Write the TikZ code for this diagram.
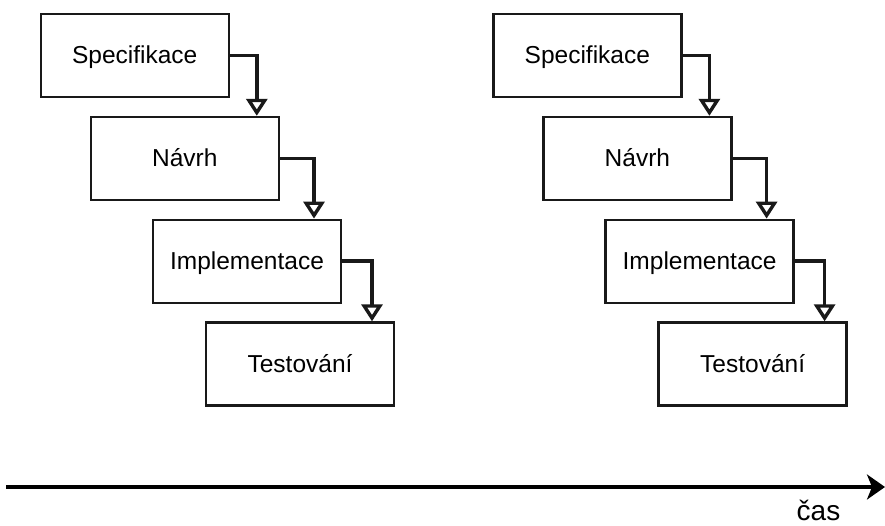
\documentclass[tikz,border=0pt]{standalone}
\usepackage{fontspec}
\setmainfont{Liberation Sans}
\usetikzlibrary{arrows.meta}
\begin{document}
\begin{tikzpicture}[x=1pt,y=-1pt,
  box/.style={draw=black!90, line width=2.4pt, fill=white, minimum width=188pt, minimum height=83pt, inner sep=0pt,
    text height=17pt, text depth=0pt, font=\fontsize{24.5}{28}\selectfont},
  conn/.style={draw=black!90, line width=3.6pt, -{Triangle[open, length=17pt, width=21pt, line width=3.4pt]}},
  timeline/.style={draw=black, line width=3.4pt, -{Stealth[length=18pt, width=25pt, inset=5pt]}},
  lbl/.style={font=\fontsize{28}{32}\selectfont, inner sep=0pt}]
\useasboundingbox (0,0) rectangle (885,526);
% left group
\node[box] (s1) at (134.7,55.5) {Specifikace};
\node[box] (n1) at (184.8,158.5) {Návrh};
\node[box] (i1) at (247,261.3) {Implementace};
\node[box] (t1) at (300,364) {Testování};
% right group
\node[box] (s2) at (587.3,55.5) {Specifikace};
\node[box] (n2) at (637.4,158.5) {Návrh};
\node[box] (i2) at (699.6,261.3) {Implementace};
\node[box] (t2) at (752.6,364) {Testování};
% connectors
\draw[conn] (s1.east) -| ([xshift=72pt]n1.north);
\draw[conn] (n1.east) -| ([xshift=67pt]i1.north);
\draw[conn] (i1.east) -| ([xshift=72pt]t1.north);
\draw[conn] (s2.east) -| ([xshift=72pt]n2.north);
\draw[conn] (n2.east) -| ([xshift=67pt]i2.north);
\draw[conn] (i2.east) -| ([xshift=72pt]t2.north);
% time axis
\coordinate (ta) at (6,487);
\coordinate (tb) at (885,487);
\draw[timeline] (ta) -- (tb);
\node[lbl, anchor=base] (cas) at (818.5,520.5) {čas};
\end{tikzpicture}
\end{document}
